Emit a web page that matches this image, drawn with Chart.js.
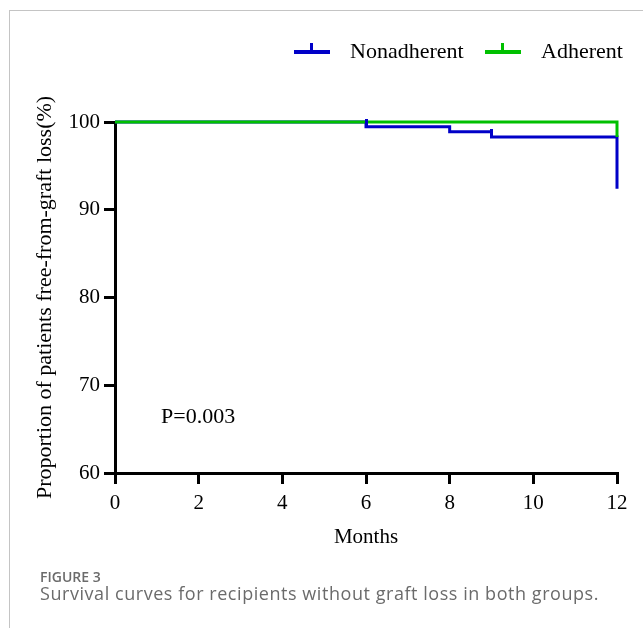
<!DOCTYPE html>
<html>
<head>
<meta charset="utf-8">
<title>Figure 3</title>
<script src="https://cdn.jsdelivr.net/npm/chart.js@4.4.0/dist/chart.umd.min.js"></script>
<style>
body { margin: 0; background: #fff; }
#wrap { position: relative; width: 643px; height: 628px; overflow: hidden; }
#frame { position: absolute; left: 9px; top: 10px; right: -2px; bottom: -2px; border-left: 1px solid #c4c4c4; border-top: 1px solid #c4c4c4; }
#chart { position: absolute; left: 0; top: 0; }
.cap { position: absolute; left: 40px; font-family: 'Open Sans', sans-serif; color: #6b6b6b; white-space: nowrap; line-height: 1; }
#figno { top: 570px; font-size: 14px; font-weight: 600; }
#captext { top: 584px; font-size: 18px; letter-spacing: 0.55px; }
</style>
</head>
<body>
<div id="wrap">
  <div id="frame"></div>
  <canvas id="chart" width="643" height="628"></canvas>
  <div class="cap" id="figno">FIGURE 3</div>
  <div class="cap" id="captext">Survival curves for recipients without graft loss in both groups.</div>
</div>
<script>
// --- DATA ---
const seriesNames = ['Nonadherent', 'Adherent'];
const seriesColors = ['#0000c8', '#00c000'];

// Kaplan-Meier steps (months, % free from graft loss)
const nonadhMonths = [0, 6, 8, 9, 12];
const nonadhValues = [100, 99.45, 98.9, 98.3, 92.4];
const adhMonths = [0, 12, 12];
const adhValues = [100, 100, 98.3];

// censored observations
const censorMonths = [6, 9];
const censorValues = [99.45, 98.3];

const xTicks = [0, 2, 4, 6, 8, 10, 12];
const yTicks = [60, 70, 80, 90, 100];
const pValueText = 'P=0.003';

const serif = "'Liberation Serif', 'Times New Roman', serif";

function toPoints(xs, ys) {
    return xs.map((x, i) => ({ x: x, y: ys[i] }));
}

// small upward censor tick used as a point image
function censorMark(color) {
    const c = document.createElement('canvas');
    c.width = 3;
    c.height = 16;
    const g = c.getContext('2d');
    g.fillStyle = color;
    g.fillRect(0, 0, 3, 8);
    return c;
}

// legend: line with a tick in the middle, drawn on top right
const legendPlugin = {
    id: 'kmLegend',
    afterDraw(chart) {
        const ctx = chart.ctx;
        const items = [{ x: 294, name: seriesNames[0], color: seriesColors[0] },
                       { x: 485, name: seriesNames[1], color: seriesColors[1] }];
        ctx.save();
        ctx.font = '22px ' + serif;
        ctx.textBaseline = 'middle';
        items.forEach(it => {
            ctx.fillStyle = it.color;
            ctx.fillRect(it.x, 50, 36, 4);
            ctx.fillRect(it.x + 16, 43, 3, 8);
            ctx.fillStyle = '#000';
            ctx.fillText(it.name, it.x + 56, 52);
        });
        ctx.restore();
    }
};

// p-value placed with the chart scales
const pValuePlugin = {
    id: 'pValue',
    afterDraw(chart) {
        const ctx = chart.ctx;
        const x = chart.scales.x.getPixelForValue(1.1);
        const y = chart.scales.y.getPixelForValue(66.4);
        ctx.save();
        ctx.font = '22px ' + serif;
        ctx.fillStyle = '#000';
        ctx.textBaseline = 'middle';
        ctx.fillText(pValueText, x, y);
        ctx.restore();
    }
};

document.addEventListener('DOMContentLoaded', () => {
    Chart.defaults.font.family = serif;
    Chart.defaults.color = '#000';

    new Chart(document.getElementById('chart'), {
        type: 'line',
        data: {
            datasets: [
                {
                    label: seriesNames[0],
                    data: toPoints(nonadhMonths, nonadhValues),
                    borderColor: seriesColors[0],
                    borderWidth: 3,
                    stepped: true,
                    pointRadius: 0,
                    clip: false,
                    order: 3
                },
                {
                    label: seriesNames[1],
                    data: toPoints(adhMonths, adhValues),
                    borderColor: seriesColors[1],
                    borderWidth: 3,
                    stepped: true,
                    pointRadius: 0,
                    clip: false,
                    order: 2
                },
                {
                    label: 'censored',
                    data: toPoints(censorMonths, censorValues),
                    showLine: false,
                    pointStyle: censorMark(seriesColors[0]),
                    pointRadius: 4,
                    clip: false,
                    order: 1
                }
            ]
        },
        options: {
            responsive: false,
            animation: false,
            layout: { padding: { left: 0, top: 122, right: 26, bottom: 0 } },
            plugins: { legend: { display: false }, tooltip: { enabled: false } },
            scales: {
                x: {
                    type: 'linear',
                    min: 0,
                    max: 12,
                    afterFit(scale) { scale.height = 155; },
                    afterBuildTicks(scale) { scale.ticks = xTicks.map(v => ({ value: v })); },
                    grid: { drawOnChartArea: false, color: '#000', lineWidth: 3, tickLength: 11 },
                    border: { color: '#000', width: 3 },
                    ticks: { font: { size: 21 }, padding: 7, maxRotation: 0 },
                    title: { display: true, text: 'Months', font: { size: 21 }, padding: { top: 0, bottom: 78 } }
                },
                y: {
                    min: 60,
                    max: 100,
                    afterFit(scale) { scale.width = 115; },
                    afterBuildTicks(scale) { scale.ticks = yTicks.map(v => ({ value: v })); },
                    grid: { drawOnChartArea: false, color: '#000', lineWidth: 3, tickLength: 11 },
                    border: { color: '#000', width: 3 },
                    ticks: { font: { size: 21 }, padding: 4 },
                    title: { display: true, text: 'Proportion of patients free-from-graft loss(%)', font: { size: 22 }, padding: { top: 32, bottom: 0 } }
                }
            }
        },
        plugins: [legendPlugin, pValuePlugin]
    });
});
</script>
</body>
</html>
